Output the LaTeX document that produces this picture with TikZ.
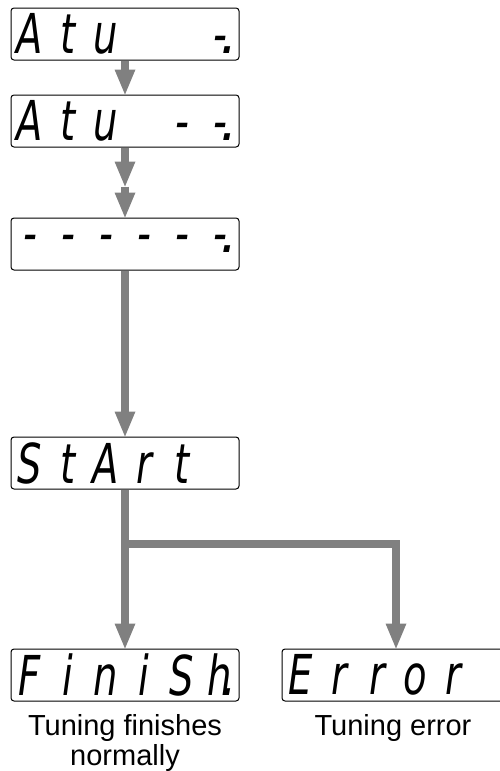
\documentclass[tikz,border=0pt]{standalone}
\usepackage{fontspec}
\setmainfont{Liberation Sans}
\newfontfamily\segfont{DejaVu Sans}
\usepackage{graphicx}
\usepackage{tikz}
\usetikzlibrary{arrows.meta,positioning}

% one character cell of the display
\newcommand\segcell[1]{\makebox[38pt]{\scalebox{0.7}[1]{#1}}}
\makeatletter
\def\segtext#1{\seg@loop#1\relax}
\def\seg@loop#1{\ifx\relax#1\else\segcell{#1}\expandafter\seg@loop\fi}
\makeatother
\newcommand\segdot{\llap{.\hspace{1pt}}}

\begin{document}
\begin{tikzpicture}[x=1pt, y=-1pt,
      disp/.style={draw, line width=1pt, rounded corners=3pt,
                   minimum width=228pt, minimum height=52pt, inner sep=0pt,
                   font=\segfont\itshape\fontsize{55}{55}\selectfont},
      lbl/.style={inner sep=0pt, align=center,
                  font=\fontsize{29}{30}\selectfont},
      arr/.style={-{Triangle[length=25pt, width=21pt, line width=0pt]},
                  line width=8pt, color=black!50}
  ]
    \useasboundingbox (0,0) rectangle (500,771);
    \clip (0,0) rectangle (500,771);
    \node[disp] (atu1) at (125,34) {\segtext{Atu~~-}\segdot};
    \node[disp, below=34pt of atu1] (atu2) {\segtext{Atu~--}\segdot};
    \node[disp, below=70pt of atu2] (dash) {\segtext{------}\segdot};
    \node[disp, below=166pt of dash] (start) {\segtext{StArt~}};
    \node[disp, below=159pt of start] (fin) {\segtext{FiniSh}\segdot};
    \node[disp, right=42pt of fin] (err) {\segtext{Error~}};
    \node[lbl, below=13pt of fin] (finlbl) {Tuning finishes\\normally};
    \node[lbl, below=13pt of err, xshift=-3pt] (errlbl) {Tuning error};
    \coordinate[below=39pt of atu2] (mid);
    \coordinate[below=54pt of start] (split);
    \draw[arr] (atu1) -- (atu2);
    \draw[arr] (atu2) -- (mid);
    \draw[arr] (mid) -- (dash);
    \draw[arr] (dash) -- (start);
    \draw[arr] (start) -- (fin);
    \draw[arr] (split) -| (err);
  \end{tikzpicture}
\end{document}
